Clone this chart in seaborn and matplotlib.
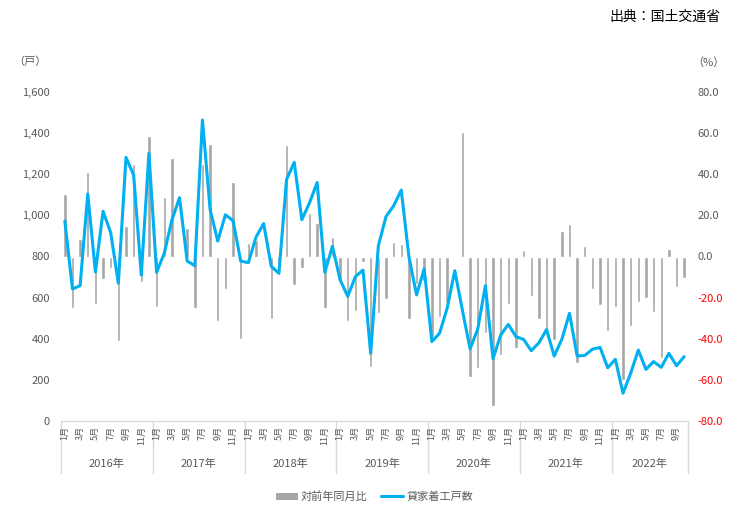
import numpy as np
import pandas as pd
import matplotlib
matplotlib.use('Agg')
import matplotlib.pyplot as plt
import seaborn as sns
from matplotlib.patches import Patch
from matplotlib.lines import Line2D
from matplotlib.ticker import FuncFormatter

sns.set_style('white')
plt.rcParams['font.family'] = ['Noto Sans CJK JP', 'DejaVu Sans']
plt.rcParams['axes.unicode_minus'] = False

years = ['2016年', '2017年', '2018年', '2019年', '2020年', '2021年', '2022年']

# 貸家着工戸数 (戸), 2016/1 - 2022/10
starts = [973, 642, 658, 1104, 725, 1020, 916, 670, 1282, 1196, 710, 1302,
          723, 815, 977, 1086, 778, 755, 1464, 1028, 875, 1003, 974, 778,
          770, 894, 960, 752, 718, 1175, 1258, 979, 1061, 1160, 723, 850,
          687, 606, 702, 734, 329, 851, 994, 1046, 1123, 799, 613, 740,
          386, 426, 548, 731, 538, 351, 447, 658, 303, 418, 470, 410,
          397, 342, 380, 445, 316, 397, 524, 316, 319, 349, 358, 259,
          300, 135, 232, 345, 251, 289, 261, 329, 269, 313]

# 対前年同月比 (%)
yoy = [30.6, -25.1, 8.4, 41.2, -23.3, -11.0, -5.8, -41.0, 14.6, 44.9, -12.2, 58.8,
       -24.8, 28.7, 48.0, -0.8, 14.1, -25.1, 45.0, 54.6, -31.3, -15.9, 36.0, -40.0,
       6.5, 8.0, -1.4, -30.2, -6.0, 54.2, -13.9, -5.8, 21.0, 16.1, -25.2, 9.6,
       -11.4, -31.4, -26.4, -2.5, -53.6, -27.3, -20.8, 7.2, 5.9, -30.4, -13.4, -12.0,
       -39.3, -29.6, -22.3, -0.5, 60.7, -58.5, -54.4, -37.3, -72.7, -47.9, -23.0, -44.3,
       3.0, -19.4, -30.3, -37.5, -40.6, 12.6, 15.6, -51.6, 5.1, -16.0, -23.6, -36.2,
       -24.4, -60.1, -33.6, -22.0, -20.3, -27.0, -49.5, 3.5, -14.7, -10.3]

n = len(starts)
df = pd.DataFrame({'idx': np.arange(n), 'starts': starts, 'yoy': yoy})

bar_color = '#A6A6A6'
line_color = '#00B0F0'
text_color = '#595959'
frame_color = '#D9D9D9'

fig = plt.figure(figsize=(7.49, 5.22), dpi=100)
ax = fig.add_axes([61 / 749, 1 - 421 / 522, 627 / 749, 329 / 522])

# bars on the primary axes (ticks on the right), line on the twin so it stays on top
sns.barplot(data=df, x='idx', y='yoy', ax=ax, color=bar_color,
            saturation=1, width=0.45, errorbar=None)
ax.set_ylim(-80, 80)
ax.set_xlim(-0.5, n - 0.5)

ax2 = ax.twinx()
sns.lineplot(data=df, x='idx', y='starts', ax=ax2, color=line_color, linewidth=2.2)
ax2.set_ylim(0, 1600)
ax2.set_xlim(-0.5, n - 0.5)

# axis sides swapped: % on the right, 戸 on the left
ax.yaxis.tick_right()
ax.yaxis.set_label_position('right')
ax2.yaxis.tick_left()
ax2.yaxis.set_label_position('left')

ax.set_yticks(np.arange(-80, 81, 20))
ax.yaxis.set_major_formatter(FuncFormatter(lambda v, p: f'{v:.1f}'))
ax.tick_params(axis='y', length=0, pad=7, labelsize=8, labelcolor=text_color)
for lab, v in zip(ax.get_yticklabels(), np.arange(-80, 81, 20)):
    if v < 0:
        lab.set_color('#FF0000')

ax2.set_yticks(np.arange(0, 1601, 200))
ax2.yaxis.set_major_formatter(FuncFormatter(lambda v, p: f'{int(v):,}'))
ax2.tick_params(axis='y', length=0, pad=8, labelsize=8, labelcolor=text_color)

for a in (ax, ax2):
    a.set_xlabel('')
    a.set_ylabel('')
    a.set_xticks([])
    for side in ('left', 'right', 'top'):
        a.spines[side].set_visible(False)
    a.spines['bottom'].set_color(frame_color)
    a.grid(False)
    a.legend_ = None

# month and year labels under the axis
trans = ax.get_xaxis_transform()
for i in range(n):
    m = i % 12 + 1
    if m % 2 == 1:
        ax.text(i, -0.015, f'{m}月', transform=trans, rotation=90,
                ha='center', va='top', fontsize=6.5, color=text_color)

for k, yr in enumerate(years):
    start = k * 12 - 0.5
    end = min(start + 12, n - 0.5)
    ax.text((start + end) / 2, -0.13, yr, transform=trans, ha='center',
            va='center', fontsize=8, color=text_color)
    ax.plot([start, start], [0, -0.158], transform=trans, color=frame_color,
            lw=1, clip_on=False)
ax.plot([n - 0.5, n - 0.5], [0, -0.158], transform=trans, color=frame_color,
        lw=1, clip_on=False)

fig.text(30 / 749, 1 - 62 / 522, '（戸）', fontsize=8, color=text_color,
         ha='center', va='center')
fig.text(708 / 749, 1 - 63 / 522, '（%）', fontsize=8, color=text_color,
         ha='center', va='center')
fig.text(720 / 749, 1 - 17 / 522, '出典：国土交通省', fontsize=10, color='black',
         ha='right', va='center')

handles = [Patch(facecolor=bar_color, edgecolor='none', label='対前年同月比'),
           Line2D([0], [0], color=line_color, lw=2.2, label='貸家着工戸数')]
fig.legend(handles=handles, loc='center', bbox_to_anchor=(0.5, 1 - 497 / 522),
           ncol=2, frameon=False, fontsize=8, labelcolor=text_color,
           handlelength=2, handletextpad=0.3, columnspacing=1.2)

fig.savefig('out.png', dpi=100)
